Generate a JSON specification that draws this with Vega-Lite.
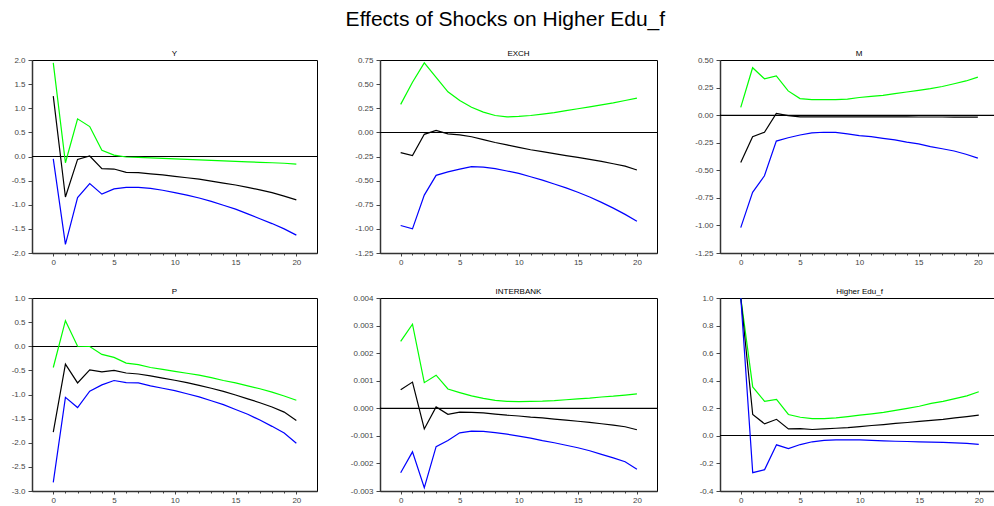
{
  "$schema": "https://vega.github.io/schema/vega-lite/v6.json",
  "padding": {"left": 10, "top": 8, "right": 0, "bottom": 0},
  "title": {"text": "Effects of Shocks on Higher Edu_f", "fontSize": 21, "font": "Liberation Sans", "fontWeight": "normal", "color": "#000", "anchor": "middle", "frame": "bounds", "offset": 20},
  "columns": 3,
  "spacing": {"row": 45, "column": 63},
  "bounds": "flush",
  "align": "each",
  "datasets": {
    "Y": [
      {"step": 0, "hi": 1.94, "mid": 1.25, "lo": -0.05},
      {"step": 1, "hi": -0.13, "mid": -0.84, "lo": -1.82},
      {"step": 2, "hi": 0.78, "mid": -0.06, "lo": -0.85},
      {"step": 3, "hi": 0.62, "mid": 0.01, "lo": -0.56},
      {"step": 4, "hi": 0.13, "mid": -0.25, "lo": -0.78},
      {"step": 5, "hi": 0.03, "mid": -0.26, "lo": -0.67},
      {"step": 6, "hi": -0.01, "mid": -0.33, "lo": -0.64},
      {"step": 7, "hi": -0.02, "mid": -0.335, "lo": -0.64},
      {"step": 8, "hi": -0.03, "mid": -0.36, "lo": -0.66},
      {"step": 9, "hi": -0.04, "mid": -0.38, "lo": -0.7},
      {"step": 10, "hi": -0.05, "mid": -0.41, "lo": -0.75},
      {"step": 11, "hi": -0.06, "mid": -0.44, "lo": -0.8},
      {"step": 12, "hi": -0.07, "mid": -0.47, "lo": -0.86},
      {"step": 13, "hi": -0.08, "mid": -0.51, "lo": -0.93},
      {"step": 14, "hi": -0.09, "mid": -0.55, "lo": -1.01},
      {"step": 15, "hi": -0.1, "mid": -0.59, "lo": -1.09},
      {"step": 16, "hi": -0.11, "mid": -0.64, "lo": -1.19},
      {"step": 17, "hi": -0.12, "mid": -0.69, "lo": -1.29},
      {"step": 18, "hi": -0.13, "mid": -0.75, "lo": -1.39},
      {"step": 19, "hi": -0.14, "mid": -0.82, "lo": -1.5},
      {"step": 20, "hi": -0.16, "mid": -0.9, "lo": -1.63}
    ],
    "EXCH": [
      {"step": 0, "hi": 0.29, "mid": -0.21, "lo": -0.965},
      {"step": 1, "hi": 0.52, "mid": -0.24, "lo": -1.0},
      {"step": 2, "hi": 0.72, "mid": -0.02, "lo": -0.65},
      {"step": 3, "hi": 0.57, "mid": 0.02, "lo": -0.445},
      {"step": 4, "hi": 0.42, "mid": -0.015, "lo": -0.41},
      {"step": 5, "hi": 0.33, "mid": -0.025, "lo": -0.38},
      {"step": 6, "hi": 0.26, "mid": -0.045, "lo": -0.355},
      {"step": 7, "hi": 0.21, "mid": -0.075, "lo": -0.36},
      {"step": 8, "hi": 0.175, "mid": -0.105, "lo": -0.375},
      {"step": 9, "hi": 0.16, "mid": -0.13, "lo": -0.4},
      {"step": 10, "hi": 0.165, "mid": -0.155, "lo": -0.425},
      {"step": 11, "hi": 0.175, "mid": -0.18, "lo": -0.46},
      {"step": 12, "hi": 0.19, "mid": -0.2, "lo": -0.495},
      {"step": 13, "hi": 0.205, "mid": -0.22, "lo": -0.535},
      {"step": 14, "hi": 0.225, "mid": -0.24, "lo": -0.575},
      {"step": 15, "hi": 0.245, "mid": -0.26, "lo": -0.62},
      {"step": 16, "hi": 0.265, "mid": -0.28, "lo": -0.67},
      {"step": 17, "hi": 0.285, "mid": -0.3, "lo": -0.725},
      {"step": 18, "hi": 0.305, "mid": -0.325, "lo": -0.785},
      {"step": 19, "hi": 0.33, "mid": -0.35, "lo": -0.85},
      {"step": 20, "hi": 0.355, "mid": -0.39, "lo": -0.92}
    ],
    "M": [
      {"step": 0, "hi": 0.07, "mid": -0.43, "lo": -1.02},
      {"step": 1, "hi": 0.43, "mid": -0.195, "lo": -0.7},
      {"step": 2, "hi": 0.33, "mid": -0.155, "lo": -0.55},
      {"step": 3, "hi": 0.355, "mid": 0.015, "lo": -0.235},
      {"step": 4, "hi": 0.22, "mid": -0.005, "lo": -0.205},
      {"step": 5, "hi": 0.15, "mid": -0.015, "lo": -0.18},
      {"step": 6, "hi": 0.14, "mid": -0.015, "lo": -0.16},
      {"step": 7, "hi": 0.14, "mid": -0.015, "lo": -0.155},
      {"step": 8, "hi": 0.14, "mid": -0.015, "lo": -0.157},
      {"step": 9, "hi": 0.145, "mid": -0.015, "lo": -0.17},
      {"step": 10, "hi": 0.16, "mid": -0.015, "lo": -0.185},
      {"step": 11, "hi": 0.17, "mid": -0.015, "lo": -0.195},
      {"step": 12, "hi": 0.18, "mid": -0.016, "lo": -0.21},
      {"step": 13, "hi": 0.195, "mid": -0.016, "lo": -0.225},
      {"step": 14, "hi": 0.21, "mid": -0.016, "lo": -0.245},
      {"step": 15, "hi": 0.225, "mid": -0.017, "lo": -0.26},
      {"step": 16, "hi": 0.24, "mid": -0.017, "lo": -0.285},
      {"step": 17, "hi": 0.26, "mid": -0.017, "lo": -0.305},
      {"step": 18, "hi": 0.285, "mid": -0.018, "lo": -0.325},
      {"step": 19, "hi": 0.31, "mid": -0.018, "lo": -0.355},
      {"step": 20, "hi": 0.345, "mid": -0.018, "lo": -0.39}
    ],
    "P": [
      {"step": 0, "hi": -0.44, "mid": -1.78, "lo": -2.82},
      {"step": 1, "hi": 0.53, "mid": -0.37, "lo": -1.06},
      {"step": 2, "hi": 0.0, "mid": -0.76, "lo": -1.27},
      {"step": 3, "hi": -0.005, "mid": -0.49, "lo": -0.93},
      {"step": 4, "hi": -0.17, "mid": -0.53, "lo": -0.8},
      {"step": 5, "hi": -0.23, "mid": -0.5, "lo": -0.71},
      {"step": 6, "hi": -0.35, "mid": -0.555, "lo": -0.755},
      {"step": 7, "hi": -0.38, "mid": -0.575, "lo": -0.76},
      {"step": 8, "hi": -0.44, "mid": -0.615, "lo": -0.82},
      {"step": 9, "hi": -0.48, "mid": -0.66, "lo": -0.87},
      {"step": 10, "hi": -0.52, "mid": -0.705, "lo": -0.92},
      {"step": 11, "hi": -0.56, "mid": -0.755, "lo": -0.985},
      {"step": 12, "hi": -0.6, "mid": -0.81, "lo": -1.05},
      {"step": 13, "hi": -0.65, "mid": -0.87, "lo": -1.13},
      {"step": 14, "hi": -0.71, "mid": -0.935, "lo": -1.21},
      {"step": 15, "hi": -0.76, "mid": -1.01, "lo": -1.31},
      {"step": 16, "hi": -0.82, "mid": -1.09, "lo": -1.41},
      {"step": 17, "hi": -0.88, "mid": -1.17, "lo": -1.53},
      {"step": 18, "hi": -0.95, "mid": -1.26, "lo": -1.66},
      {"step": 19, "hi": -1.03, "mid": -1.365, "lo": -1.8},
      {"step": 20, "hi": -1.12, "mid": -1.54, "lo": -2.01}
    ],
    "INTERBANK": [
      {"step": 0, "hi": 0.00243, "mid": 0.00067, "lo": -0.00234},
      {"step": 1, "hi": 0.00305, "mid": 0.00095, "lo": -0.00158},
      {"step": 2, "hi": 0.00093, "mid": -0.00075, "lo": -0.00288},
      {"step": 3, "hi": 0.0012, "mid": 0.00005, "lo": -0.00139},
      {"step": 4, "hi": 0.0007, "mid": -0.00022, "lo": -0.00117},
      {"step": 5, "hi": 0.00057, "mid": -0.00014, "lo": -0.00089},
      {"step": 6, "hi": 0.00045, "mid": -0.00015, "lo": -0.00083},
      {"step": 7, "hi": 0.00036, "mid": -0.00017, "lo": -0.00084},
      {"step": 8, "hi": 0.00029, "mid": -0.00021, "lo": -0.00088},
      {"step": 9, "hi": 0.00025, "mid": -0.00025, "lo": -0.00094},
      {"step": 10, "hi": 0.00024, "mid": -0.00028, "lo": -0.00101},
      {"step": 11, "hi": 0.00025, "mid": -0.00032, "lo": -0.00108},
      {"step": 12, "hi": 0.00026, "mid": -0.00035, "lo": -0.00117},
      {"step": 13, "hi": 0.00028, "mid": -0.00039, "lo": -0.00125},
      {"step": 14, "hi": 0.00031, "mid": -0.00043, "lo": -0.00134},
      {"step": 15, "hi": 0.00034, "mid": -0.00047, "lo": -0.00143},
      {"step": 16, "hi": 0.00037, "mid": -0.00051, "lo": -0.00154},
      {"step": 17, "hi": 0.00041, "mid": -0.00056, "lo": -0.00167},
      {"step": 18, "hi": 0.00044, "mid": -0.00061, "lo": -0.0018},
      {"step": 19, "hi": 0.00048, "mid": -0.00067, "lo": -0.00194},
      {"step": 20, "hi": 0.00052, "mid": -0.00078, "lo": -0.00221}
    ],
    "HE": [
      {"step": 0, "hi": 1.0, "mid": 1.0, "lo": 1.0},
      {"step": 1, "hi": 0.355, "mid": 0.155, "lo": -0.267},
      {"step": 2, "hi": 0.25, "mid": 0.087, "lo": -0.245},
      {"step": 3, "hi": 0.265, "mid": 0.12, "lo": -0.065},
      {"step": 4, "hi": 0.155, "mid": 0.05, "lo": -0.092},
      {"step": 5, "hi": 0.135, "mid": 0.053, "lo": -0.063},
      {"step": 6, "hi": 0.125, "mid": 0.046, "lo": -0.043},
      {"step": 7, "hi": 0.125, "mid": 0.05, "lo": -0.033},
      {"step": 8, "hi": 0.13, "mid": 0.055, "lo": -0.029},
      {"step": 9, "hi": 0.14, "mid": 0.06, "lo": -0.029},
      {"step": 10, "hi": 0.15, "mid": 0.067, "lo": -0.029},
      {"step": 11, "hi": 0.16, "mid": 0.075, "lo": -0.033},
      {"step": 12, "hi": 0.17, "mid": 0.082, "lo": -0.036},
      {"step": 13, "hi": 0.185, "mid": 0.09, "lo": -0.039},
      {"step": 14, "hi": 0.2, "mid": 0.097, "lo": -0.041},
      {"step": 15, "hi": 0.215, "mid": 0.105, "lo": -0.043},
      {"step": 16, "hi": 0.235, "mid": 0.113, "lo": -0.046},
      {"step": 17, "hi": 0.25, "mid": 0.12, "lo": -0.048},
      {"step": 18, "hi": 0.27, "mid": 0.13, "lo": -0.051},
      {"step": 19, "hi": 0.29, "mid": 0.14, "lo": -0.055},
      {"step": 20, "hi": 0.32, "mid": 0.15, "lo": -0.062}
    ]
  },
  "concat": [
    {
      "width": 285, "height": 193,
      "title": {"text": "Y"},
      "data": {"name": "Y"},
      "layer": [
        {"mark": {"type": "rule", "color": "#000", "strokeWidth": 1}, "encoding": {"y": {"datum": 0}}},
        {"mark": {"type": "line", "color": "#00ff00", "strokeWidth": 1.2}, "encoding": {
          "x": {"field": "step", "type": "quantitative", "scale": {"domain": [-1.75, 21.7], "nice": false, "zero": false}, "axis": {"tickCount": 50, "format": "d", "values": [0,1,2,3,4,5,6,7,8,9,10,11,12,13,14,15,16,17,18,19,20], "labelExpr": "datum.value % 5 === 0 ? datum.label : ''", "tickSize": {"condition": {"test": "datum.value % 5 === 0", "value": 3}, "value": 2}}},
          "y": {"field": "hi", "type": "quantitative", "scale": {"domain": [-2, 2], "nice": false, "zero": false}, "axis": {"tickCount": 50, "values": [-2,-1.5,-1,-0.5,0,0.5,1,1.5,2], "format": ".1f"}}}},
        {"mark": {"type": "line", "color": "#000000", "strokeWidth": 1.2}, "encoding": {"x": {"field": "step", "type": "quantitative"}, "y": {"field": "mid", "type": "quantitative"}}},
        {"mark": {"type": "line", "color": "#0000ff", "strokeWidth": 1.2}, "encoding": {"x": {"field": "step", "type": "quantitative"}, "y": {"field": "lo", "type": "quantitative"}}}
      ]
    },
    {
      "width": 277, "height": 193,
      "title": {"text": "EXCH"},
      "data": {"name": "EXCH"},
      "layer": [
        {"mark": {"type": "rule", "color": "#000", "strokeWidth": 1, "yOffset": 0.125}, "encoding": {"y": {"datum": 0}}},
        {"mark": {"type": "line", "color": "#00ff00", "strokeWidth": 1.2}, "encoding": {
          "x": {"field": "step", "type": "quantitative", "scale": {"domain": [-1.75, 21.7], "nice": false, "zero": false}, "axis": {"tickCount": 50, "format": "d", "values": [0,1,2,3,4,5,6,7,8,9,10,11,12,13,14,15,16,17,18,19,20], "labelExpr": "datum.value % 5 === 0 ? datum.label : ''", "tickSize": {"condition": {"test": "datum.value % 5 === 0", "value": 3}, "value": 2}}},
          "y": {"field": "hi", "type": "quantitative", "scale": {"domain": [-1.25, 0.75], "nice": false, "zero": false}, "axis": {"tickCount": 50, "values": [-1.25,-1,-0.75,-0.5,-0.25,0,0.25,0.5,0.75], "format": ".2f"}}}},
        {"mark": {"type": "line", "color": "#000000", "strokeWidth": 1.2}, "encoding": {"x": {"field": "step", "type": "quantitative"}, "y": {"field": "mid", "type": "quantitative"}}},
        {"mark": {"type": "line", "color": "#0000ff", "strokeWidth": 1.2}, "encoding": {"x": {"field": "step", "type": "quantitative"}, "y": {"field": "lo", "type": "quantitative"}}}
      ]
    },
    {
      "width": 278, "height": 193,
      "title": {"text": "M"},
      "data": {"name": "M"},
      "layer": [
        {"mark": {"type": "rule", "color": "#000", "strokeWidth": 1, "yOffset": 0.357}, "encoding": {"y": {"datum": 0}}},
        {"mark": {"type": "line", "color": "#00ff00", "strokeWidth": 1.2}, "encoding": {
          "x": {"field": "step", "type": "quantitative", "scale": {"domain": [-1.75, 21.7], "nice": false, "zero": false}, "axis": {"tickCount": 50, "format": "d", "values": [0,1,2,3,4,5,6,7,8,9,10,11,12,13,14,15,16,17,18,19,20], "labelExpr": "datum.value % 5 === 0 ? datum.label : ''", "tickSize": {"condition": {"test": "datum.value % 5 === 0", "value": 3}, "value": 2}}},
          "y": {"field": "hi", "type": "quantitative", "scale": {"domain": [-1.25, 0.5], "nice": false, "zero": false}, "axis": {"tickCount": 50, "values": [-1.25,-1,-0.75,-0.5,-0.25,0,0.25,0.5], "format": ".2f"}}}},
        {"mark": {"type": "line", "color": "#000000", "strokeWidth": 1.2}, "encoding": {"x": {"field": "step", "type": "quantitative"}, "y": {"field": "mid", "type": "quantitative"}}},
        {"mark": {"type": "line", "color": "#0000ff", "strokeWidth": 1.2}, "encoding": {"x": {"field": "step", "type": "quantitative"}, "y": {"field": "lo", "type": "quantitative"}}}
      ]
    },
    {
      "width": 285, "height": 193,
      "title": {"text": "P"},
      "data": {"name": "P"},
      "layer": [
        {"mark": {"type": "rule", "color": "#000", "strokeWidth": 1, "yOffset": 0.25}, "encoding": {"y": {"datum": 0}}},
        {"mark": {"type": "line", "color": "#00ff00", "strokeWidth": 1.2}, "encoding": {
          "x": {"field": "step", "type": "quantitative", "scale": {"domain": [-1.75, 21.7], "nice": false, "zero": false}, "axis": {"tickCount": 50, "format": "d", "values": [0,1,2,3,4,5,6,7,8,9,10,11,12,13,14,15,16,17,18,19,20], "labelExpr": "datum.value % 5 === 0 ? datum.label : ''", "tickSize": {"condition": {"test": "datum.value % 5 === 0", "value": 3}, "value": 2}}},
          "y": {"field": "hi", "type": "quantitative", "scale": {"domain": [-3, 1], "nice": false, "zero": false}, "axis": {"tickCount": 50, "values": [-3,-2.5,-2,-1.5,-1,-0.5,0,0.5,1], "format": ".1f"}}}},
        {"mark": {"type": "line", "color": "#000000", "strokeWidth": 1.2}, "encoding": {"x": {"field": "step", "type": "quantitative"}, "y": {"field": "mid", "type": "quantitative"}}},
        {"mark": {"type": "line", "color": "#0000ff", "strokeWidth": 1.2}, "encoding": {"x": {"field": "step", "type": "quantitative"}, "y": {"field": "lo", "type": "quantitative"}}}
      ]
    },
    {
      "width": 277, "height": 193,
      "title": {"text": "INTERBANK"},
      "data": {"name": "INTERBANK"},
      "layer": [
        {"mark": {"type": "rule", "color": "#000", "strokeWidth": 1, "yOffset": 0.214}, "encoding": {"y": {"datum": 0}}},
        {"mark": {"type": "line", "color": "#00ff00", "strokeWidth": 1.2}, "encoding": {
          "x": {"field": "step", "type": "quantitative", "scale": {"domain": [-1.75, 21.7], "nice": false, "zero": false}, "axis": {"tickCount": 50, "format": "d", "values": [0,1,2,3,4,5,6,7,8,9,10,11,12,13,14,15,16,17,18,19,20], "labelExpr": "datum.value % 5 === 0 ? datum.label : ''", "tickSize": {"condition": {"test": "datum.value % 5 === 0", "value": 3}, "value": 2}}},
          "y": {"field": "hi", "type": "quantitative", "scale": {"domain": [-0.003, 0.004], "nice": false, "zero": false}, "axis": {"tickCount": 50, "values": [-0.003,-0.002,-0.001,0,0.001,0.002,0.003,0.004], "format": ".3f"}}}},
        {"mark": {"type": "line", "color": "#000000", "strokeWidth": 1.2}, "encoding": {"x": {"field": "step", "type": "quantitative"}, "y": {"field": "mid", "type": "quantitative"}}},
        {"mark": {"type": "line", "color": "#0000ff", "strokeWidth": 1.2}, "encoding": {"x": {"field": "step", "type": "quantitative"}, "y": {"field": "lo", "type": "quantitative"}}}
      ]
    },
    {
      "width": 279, "height": 193,
      "title": {"text": "Higher Edu_f"},
      "data": {"name": "HE"},
      "layer": [
        {"mark": {"type": "rule", "color": "#000", "strokeWidth": 1, "yOffset": -0.357}, "encoding": {"y": {"datum": 0}}},
        {"mark": {"type": "line", "color": "#00ff00", "strokeWidth": 1.2}, "encoding": {
          "x": {"field": "step", "type": "quantitative", "scale": {"domain": [-1.75, 21.7], "nice": false, "zero": false}, "axis": {"tickCount": 50, "format": "d", "values": [0,1,2,3,4,5,6,7,8,9,10,11,12,13,14,15,16,17,18,19,20], "labelExpr": "datum.value % 5 === 0 ? datum.label : ''", "tickSize": {"condition": {"test": "datum.value % 5 === 0", "value": 3}, "value": 2}}},
          "y": {"field": "hi", "type": "quantitative", "scale": {"domain": [-0.4, 1.0], "nice": false, "zero": false}, "axis": {"tickCount": 50, "values": [-0.4,-0.2,0,0.2,0.4,0.6,0.8,1.0], "format": ".1f"}}}},
        {"mark": {"type": "line", "color": "#000000", "strokeWidth": 1.2}, "encoding": {"x": {"field": "step", "type": "quantitative"}, "y": {"field": "mid", "type": "quantitative"}}},
        {"mark": {"type": "line", "color": "#0000ff", "strokeWidth": 1.2}, "encoding": {"x": {"field": "step", "type": "quantitative"}, "y": {"field": "lo", "type": "quantitative"}}}
      ]
    }
  ],
  "config": {
    "locale": {"number": {"decimal": ".", "thousands": ",", "grouping": [3], "currency": ["$", ""], "minus": "-"}},
    "view": {"stroke": "#000", "strokeWidth": 1},
    "background": "white",
    "font": "Liberation Sans",
    "title": {"fontSize": 8, "fontWeight": "normal", "color": "#000", "offset": -2, "font": "Liberation Sans"},
    "axis": {"title": null, "grid": false, "labelOverlap": false, "labelFont": "Liberation Sans", "labelFontSize": 8, "labelColor": "#444", "tickColor": "#444", "domainColor": "#333", "domainWidth": 1.5, "tickSize": 4, "labelPadding": 3},
    "axisX": {"labelPadding": 2}
  }
}
